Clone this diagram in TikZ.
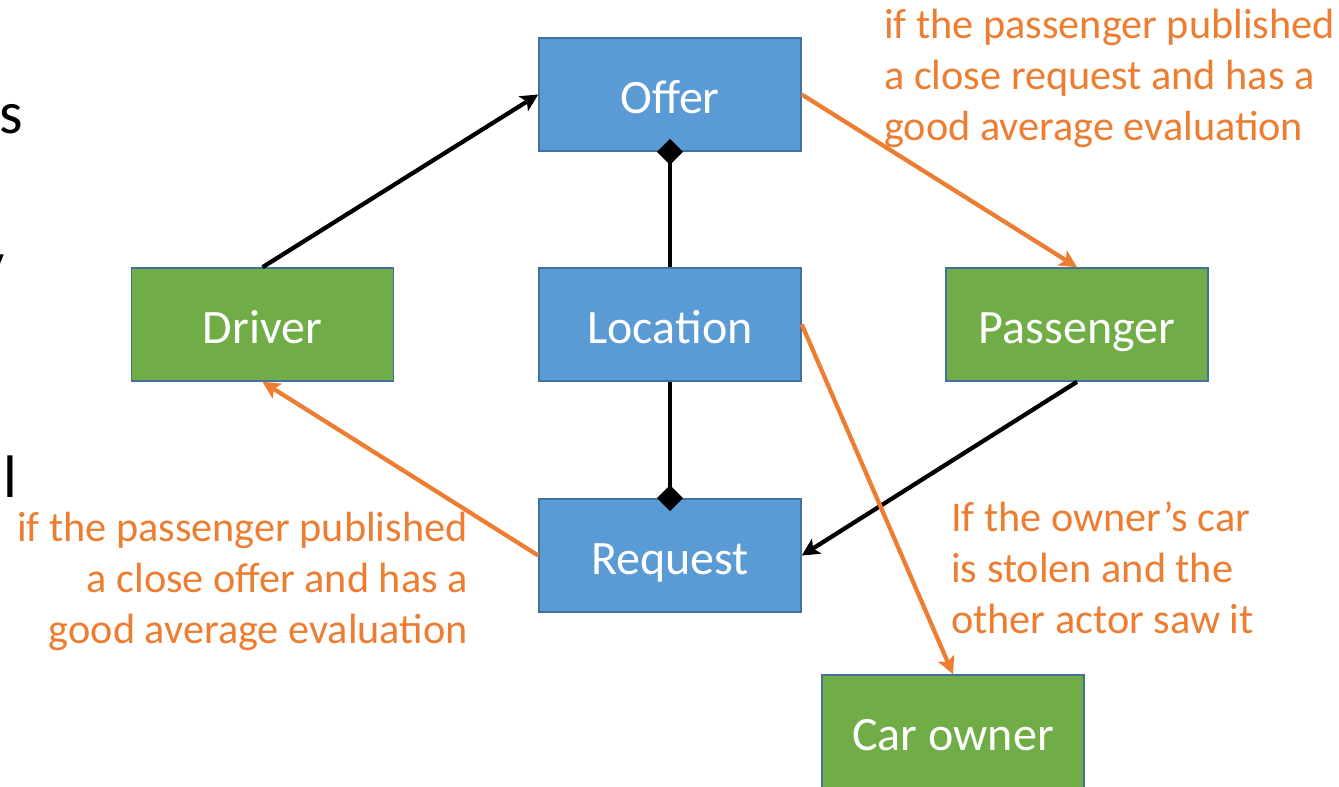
\documentclass[tikz,border=0pt]{standalone}
\usepackage{fontspec}
\setmainfont{Carlito}
\usetikzlibrary{arrows.meta}
\definecolor{boxblue}{HTML}{5B9BD5}
\definecolor{boxgreen}{HTML}{70AD47}
\definecolor{boxborder}{HTML}{41719C}
\definecolor{noteorange}{HTML}{ED7D31}
\begin{document}
\begin{tikzpicture}[x=0.75pt,y=-0.75pt,
  box/.style={draw=boxborder, line width=1.2pt, minimum width=196.5pt, minimum height=84.75pt, inner sep=0pt, text=white, text height=29pt, text depth=1.2pt, font=\fontsize{36}{43}\selectfont},
  bluebox/.style={box, fill=boxblue},
  greenbox/.style={box, fill=boxgreen},
  conn/.style={line width=3.2pt},
  arr/.style={conn, -{Stealth[length=13pt,width=13pt,inset=3pt]}},
  orangearr/.style={arr, draw=noteorange},
  agg/.style={conn, -{Diamond[length=19.5pt,width=19.5pt]}, shorten >=-9.75pt},
  note/.style={text=noteorange, font=\fontsize{31.7}{38.25}\selectfont, inner sep=0pt},
  fragment/.style={text=black, font=\fontsize{45}{54}\selectfont, inner sep=0pt}
]
\clip (0,0) rectangle (1339,786);
\fill[white] (0,0) rectangle (1339,786);

\node[fragment, anchor=base east] (fs) at (23,133) {s};
\node[fragment, anchor=base east] (fy) at (5,283) {y};
\node[fragment, anchor=base west] (fl) at (3,497) {l};

\node[bluebox] (offer) at (670,94.5) {Offer};
\node[greenbox] (driver) at (262.5,324.5) {Driver};
\node[bluebox] (loc) at (670,324.5) {Location};
\node[greenbox] (pass) at (1077,324.5) {Passenger};
\node[bluebox] (req) at (670,555.5) {Request};
\node[greenbox] (owner) at (953,731.5) {Car owner};

\draw[arr] (driver.north) -- (offer.west);
\draw[orangearr] (offer.east) -- (pass.north);
\draw[agg] (loc.north) -- (offer.south);
\draw[agg] (loc.south) -- (req.north);
\draw[arr] (pass.south) -- (req.east);
\draw[orangearr] (req.west) -- (driver.south);
\draw[orangearr] (loc.east) -- (owner.north);

\node[note, anchor=base west, align=left] (n1) at (884,140) {if the passenger published\\a close request and has a\\good average evaluation};
\node[note, anchor=base east, align=right] (n2) at (468,643) {if the passenger published\\a close offer and has a\\good average evaluation};
\node[note, anchor=base west, align=left] (n3) at (951,633) {If the owner’s car\\is stolen and the\\other actor saw it};
\end{tikzpicture}
\end{document}
